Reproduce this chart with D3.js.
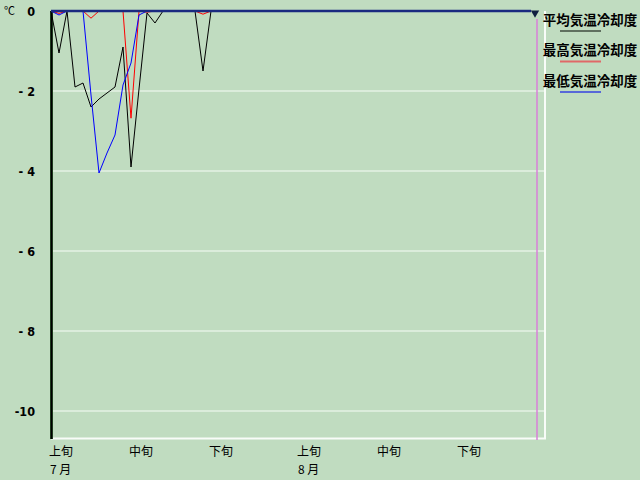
<!DOCTYPE html>
<html>
<head>
<meta charset="utf-8">
<script src="https://cdn.jsdelivr.net/npm/d3@7"></script>
<style>
  body { margin: 0; background: #c0dcc0; }
  svg { display: block; }
</style>
</head>
<body>
<div id="grafico"></div>
<script>
// 日別の冷却度 (7/1 = 0 ... 8/30 = 60)
var dias = d3.range(0, 61);

var promedio = [0, -1.05, 0, -1.9, -1.8, -2.4, -2.2, -2.05, -1.9, -0.9,
                -3.9, -1.95, -0.05, -0.3, 0, 0, 0, 0, 0, -1.5,
                0, 0, 0, 0, 0, 0, 0, 0, 0, 0,
                0, 0, 0, 0, 0, 0, 0, 0, 0, 0,
                0, 0, 0, 0, 0, 0, 0, 0, 0, 0,
                0, 0, 0, 0, 0, 0, 0, 0, 0, 0,
                0];

var maxima = [0, -0.06, 0, 0, 0, -0.18, 0, 0, 0, 0,
              -2.68, 0, -0.03, 0, 0, 0, 0, 0, 0, -0.08,
              0, 0, 0, 0, 0, 0, 0, 0, 0, 0,
              0, 0, 0, 0, 0, 0, 0, 0, 0, 0,
              0, 0, 0, 0, 0, 0, 0, 0, 0, 0,
              0, 0, 0, 0, 0, 0, 0, 0, 0, 0,
              0];

var minima = [0, -0.1, 0, 0, 0, -2.1, -4.05, -3.55, -3.1, -1.85,
              -1.3, -0.1, 0, 0, 0, 0, 0, 0, 0, 0,
              0, 0, 0, 0, 0, 0, 0, 0, 0, 0,
              0, 0, 0, 0, 0, 0, 0, 0, 0, 0,
              0, 0, 0, 0, 0, 0, 0, 0, 0, 0,
              0, 0, 0, 0, 0, 0, 0, 0, 0, 0,
              0];

var series = ["平均気温冷却度", "最高気温冷却度", "最低気温冷却度"];
var colores = ["#000000", "#ff0000", "#0000ff"];
var leyenda_colores = ["#607060", "#e06868", "#5868d8"];

var ticks_y = [0, -2, -4, -6, -8, -10];
var ticks_x = [0, 10, 20, 31, 41, 51];
var etiquetas_x = ["上旬", "中旬", "下旬", "上旬", "中旬", "下旬"];
var meses_x = [0, 31];
var etiquetas_mes = ["7 月", "8 月"];
var hoy = 60.75;

var width = 640, height = 480;

var svg = d3.select("#grafico").append("svg")
    .attr("width", width)
    .attr("height", height);

svg.append("rect")
    .attr("width", width)
    .attr("height", height)
    .attr("fill", "#c0dcc0");

var x = d3.scaleLinear().domain([0, 62]).range([51, 547]);
var y = d3.scaleLinear().domain([0, -10.7]).range([11, 439]);

//Grilla
svg.append("g")
    .selectAll("line")
    .data(ticks_y.filter(function (d) { return d < 0; }))
    .enter().append("line")
    .attr("x1", x(0))
    .attr("x2", 545)
    .attr("y1", function (d) { return y(d); })
    .attr("y2", function (d) { return y(d); })
    .attr("stroke", "#e4f2e4")
    .attr("stroke-width", 1.5);

//Bordes blancos
svg.append("line")
    .attr("x1", x(0)).attr("x2", 546)
    .attr("y1", 438.5).attr("y2", 438.5)
    .attr("stroke", "#f8fcf8").attr("stroke-width", 2);
svg.append("line")
    .attr("x1", 545).attr("x2", 545)
    .attr("y1", y(0)).attr("y2", 439)
    .attr("stroke", "#f8fcf8").attr("stroke-width", 2);

//Linea de hoy
svg.append("line")
    .attr("x1", x(hoy)).attr("x2", x(hoy))
    .attr("y1", y(0) + 8).attr("y2", 440)
    .attr("stroke", "#d880d8").attr("stroke-width", 1.5);

//Eje Y
var ejeY = svg.append("g")
    .attr("transform", "translate(" + x(0) + ",0)")
    .call(d3.axisLeft(y).tickValues(ticks_y).tickSize(0).tickPadding(16)
        .tickFormat(function (d) {
            if (d === 0) return "0";
            if (d > -10) return "- " + (-d);
            return String(d);
        }));
ejeY.select(".domain").remove();
ejeY.selectAll("text")
    .attr("font-family", "'DejaVu Sans Condensed', 'DejaVu Sans', sans-serif")
    .attr("font-stretch", "condensed")
    .attr("font-weight", "bold")
    .attr("font-size", 12.5)
    .attr("fill", "#000");

svg.append("text")
    .attr("x", 4)
    .attr("y", 11)
    .attr("dy", "0.35em")
    .attr("font-family", "'Noto Sans CJK JP', sans-serif")
    .attr("font-size", 11)
    .text("℃");

svg.append("rect")
    .attr("x", 50)
    .attr("y", y(0))
    .attr("width", 3)
    .attr("height", 439 - y(0))
    .attr("fill", "#1c3a1c");
svg.append("line")
    .attr("x1", 51.5).attr("x2", 51.5)
    .attr("y1", y(0)).attr("y2", 439)
    .attr("stroke", "#000");

//Eje X
var ejeX = svg.append("g")
    .attr("transform", "translate(0,452)");
ejeX.selectAll("text")
    .data(ticks_x)
    .enter().append("text")
    .attr("x", function (d) { return x(d) - 2; })
    .attr("dy", "0.35em")
    .attr("font-family", "'Noto Sans CJK JP', sans-serif")
    .attr("font-size", 12)
    .text(function (d, i) { return etiquetas_x[i]; });

svg.append("g")
    .attr("transform", "translate(0,470)")
    .selectAll("text")
    .data(meses_x)
    .enter().append("text")
    .attr("x", function (d) { return x(d) - 1; })
    .attr("dy", "0.35em")
    .attr("font-family", "'Noto Sans CJK JP', sans-serif")
    .attr("font-size", 12)
    .attr("xml:space", "preserve")
    .style("white-space", "pre")
    .text(function (d, i) { return etiquetas_mes[i]; });

//Lineas
var linea = d3.line()
    .x(function (d) { return x(d.dia); })
    .y(function (d) { return y(d.valor); });

[promedio, maxima, minima].forEach(function (valores, k) {
    var datos = dias.map(function (d, i) { return {dia: d, valor: valores[i]}; });
    svg.append("path")
        .datum(datos)
        .attr("fill", "none")
        .attr("stroke", colores[k])
        .attr("stroke-width", 1)
        .attr("d", linea);
});

// linea de cero
svg.append("line")
    .attr("x1", x(0)).attr("x2", x(60))
    .attr("y1", y(0)).attr("y2", y(0))
    .attr("stroke", "#1a2a80")
    .attr("stroke-width", 2.5);

// marca del ultimo dia
svg.append("path")
    .attr("d", d3.symbol().type(d3.symbolTriangle).size(30))
    .attr("transform", "translate(" + x(60.5) + "," + (y(0) + 2) + ") rotate(180)")
    .attr("fill", "#102040");

//Leyenda
var legend = svg.append("g")
    .selectAll("g")
    .data(series)
    .enter().append("g")
    .attr("transform", function (d, i) {
        return "translate(0," + (20 + i * 30.5) + ")";
    });

legend.append("text")
    .attr("x", 590)
    .attr("dy", "0.35em")
    .attr("text-anchor", "middle")
    .attr("font-family", "'Noto Sans CJK JP', sans-serif")
    .attr("font-weight", "bold")
    .attr("font-size", 13.5)
    .attr("fill", "#000")
    .text(function (d) { return d; });

legend.append("line")
    .attr("x1", 560).attr("x2", 601)
    .attr("y1", 11).attr("y2", 11)
    .attr("stroke", function (d, i) { return leyenda_colores[i]; })
    .attr("stroke-width", 2);
</script>
</body>
</html>
